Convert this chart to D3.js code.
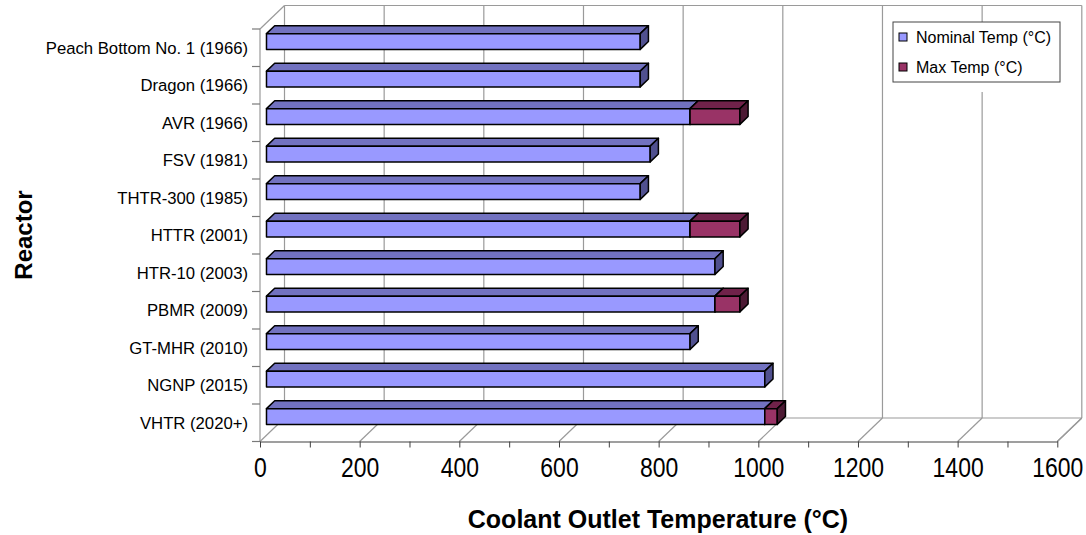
<!DOCTYPE html>
<html>
<head>
<meta charset="utf-8">
<script src="https://cdn.jsdelivr.net/npm/d3@7"></script>
<style>
  body { margin: 0; background: #fff; }
  svg { display: block; font-family: "Liberation Sans", Arial, sans-serif; }
</style>
</head>
<body>
<div id="chart"></div>
<script>
// data
var reactors = ["Peach Bottom No. 1 (1966)", "Dragon (1966)", "AVR (1966)", "FSV (1981)",
    "THTR-300 (1985)", "HTTR (2001)", "HTR-10 (2003)", "PBMR (2009)", "GT-MHR (2010)",
    "NGNP (2015)", "VHTR (2020+)"];
var nominalTemp = [750, 750, 850, 770, 750, 850, 900, 900, 850, 1000, 1000];
var maxTemp = [null, null, 950, null, null, 950, null, 950, null, null, 1025];
var seriesNames = ["Nominal Temp (°C)", "Max Temp (°C)"];
var valueLabels = [0, 200, 400, 600, 800, 1000, 1200, 1400, 1600];
var valueTicks = [0, 100, 200, 300, 400, 500, 600, 700, 800, 900, 1000, 1100, 1200, 1300, 1400, 1500, 1600];

var width = 1086,
    height = 535;

var frontTop = 29,
    frontBottom = 441.5,
    depthX = 24.5,
    depthY = -23.5,
    barFront = 0.265,   // depth fraction of bar front face
    barBack = 0.6;      // depth fraction of bar back face

var wallColor = "#9a9a9a",
    axisColor = "#404040";

var faces = {
    nominal: { front: "#9999ff", top: "#7272c0", side: "#50508f" },
    max: { front: "#993366", top: "#70224a", side: "#4d1a34" }
};

var svg = d3.select("#chart")
    .append("svg")
    .attr("width", width)
    .attr("height", height);

var x = d3.scaleLinear()
    .domain([0, 1600])
    .range([260, 1057.3]);

var y = d3.scaleBand()
    .domain(reactors)
    .range([frontTop, frontBottom])
    .paddingInner(0.58)
    .paddingOuter(0.29);

// point on the front plane pushed back by depth fraction t
function P(px, py, t) {
    return [px + t * depthX, py + t * depthY];
}

function line(p1, p2, color) {
    svg.append("line")
        .attr("x1", p1[0]).attr("y1", p1[1])
        .attr("x2", p2[0]).attr("y2", p2[1])
        .style("stroke", color)
        .style("stroke-width", "1.2px");
}

// walls
var back0 = P(x(0), frontTop, 1),
    back1 = P(x(1600), frontBottom, 1);

line(P(x(0), frontTop, 0), back0, wallColor);                  // left wall top
line(back0, P(x(1600), frontTop, 1), wallColor);               // back wall top
line(P(x(0), frontTop, 0), P(x(0), frontBottom, 0), wallColor);  // left wall front edge
line(P(x(0), frontBottom, 1), back1, wallColor);                // back wall bottom
line(P(x(1600), frontBottom, 0), back1, wallColor);             // floor right edge

valueLabels.forEach(function (v) {
    line(P(x(v), frontTop, 1), P(x(v), frontBottom, 1), wallColor);
    line(P(x(v), frontBottom, 0), P(x(v), frontBottom, 1), wallColor);
});

// category boundary ticks on the left wall
d3.range(reactors.length + 1).forEach(function (i) {
    var yy = frontTop + i * y.step();
    line([x(0) - 8, yy], [x(0), yy], "#7a7a7a");
});

// legend (white box covers the back grid)
svg.append("rect")
    .attr("x", 893).attr("y", 22)
    .attr("width", 167).attr("height", 70)
    .style("fill", "#fff");

// bars
function poly(pts, fill) {
    svg.append("polygon")
        .attr("points", pts.map(function (p) { return p.join(","); }).join(" "))
        .style("fill", fill)
        .style("stroke", "#000")
        .style("stroke-width", "1.5px")
        .style("stroke-linejoin", "round");
}

function drawBox(cat, v0, v1, col) {
    var x0 = x(v0), x1 = x(v1),
        y0 = y(cat), y1 = y(cat) + y.bandwidth();
    poly([P(x0, y0, barFront), P(x1, y0, barFront), P(x1, y0, barBack), P(x0, y0, barBack)], col.top);
    poly([P(x0, y0, barFront), P(x1, y0, barFront), P(x1, y1, barFront), P(x0, y1, barFront)], col.front);
    poly([P(x1, y0, barFront), P(x1, y0, barBack), P(x1, y1, barBack), P(x1, y1, barFront)], col.side);
}

reactors.forEach(function (r, i) {
    drawBox(r, 0, nominalTemp[i], faces.nominal);
    if (maxTemp[i] != null)
        drawBox(r, nominalTemp[i], maxTemp[i], faces.max);
});

// value axis on the front edge of the floor
var xAxis = d3.axisBottom(x)
    .tickValues(valueTicks)
    .tickSizeInner(6)
    .tickSizeOuter(0)
    .tickFormat(function (d) { return valueLabels.indexOf(d) >= 0 ? d : ""; });

var gx = svg.append("g")
    .attr("transform", "translate(0," + frontBottom + ")")
    .call(xAxis);

gx.select(".domain").style("stroke", axisColor).style("stroke-width", "1.2px");
gx.selectAll(".tick line").style("stroke", axisColor);
gx.selectAll(".tick text")
    .attr("y", 35.5)
    .attr("dy", null)
    .attr("transform", "scale(0.82,1)")
    .style("font-family", "'Liberation Sans', Arial, sans-serif")
    .style("font-size", "28px")
    .style("fill", "#000");

// category axis labels
var yAxis = d3.axisLeft(y)
    .tickSize(0)
    .tickPadding(12);

var gy = svg.append("g")
    .attr("transform", "translate(" + x(0) + ",0)")
    .call(yAxis);

gy.select(".domain").remove();
gy.selectAll(".tick text")
    .attr("dy", "0.36em")
    .style("font-family", "'Liberation Sans', Arial, sans-serif")
    .style("font-size", "16.7px")
    .style("fill", "#000");

// legend
svg.append("rect")
    .attr("x", 893).attr("y", 22)
    .attr("width", 167).attr("height", 60)
    .style("fill", "#fff")
    .style("stroke", "#444")
    .style("stroke-width", "1px");

[faces.nominal, faces.max].forEach(function (col, i) {
    svg.append("rect")
        .attr("x", 899).attr("y", 33 + i * 30)
        .attr("width", 8).attr("height", 8)
        .style("fill", col.front)
        .style("stroke", "#000")
        .style("stroke-width", "1px");
    svg.append("text")
        .attr("x", 916).attr("y", 42.5 + i * 30)
        .text(seriesNames[i])
        .style("font-size", "16px");
});

// titles
svg.append("text")
    .attr("x", 658)
    .attr("y", 528)
    .attr("text-anchor", "middle")
    .attr("font-weight", "bold")
    .style("font-size", "25px")
    .text("Coolant Outlet Temperature (°C)");

svg.append("text")
    .attr("transform", "translate(32,235) rotate(-90)")
    .attr("text-anchor", "middle")
    .attr("font-weight", "bold")
    .style("font-size", "24px")
    .text("Reactor");
</script>
</body>
</html>
